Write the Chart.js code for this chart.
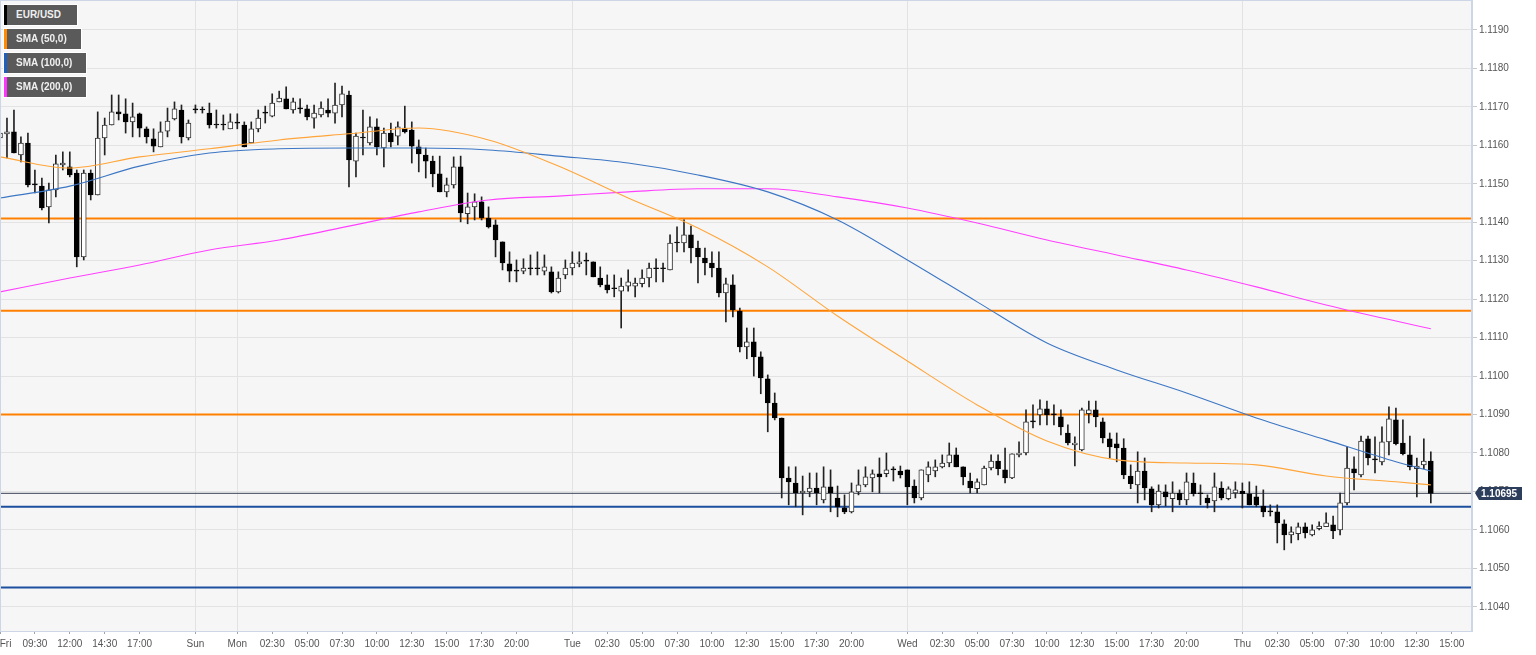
<!DOCTYPE html>
<html>
<head>
<meta charset="utf-8">
<title>EUR/USD</title>
<script src="https://cdn.jsdelivr.net/npm/chart.js@4.4.1/dist/chart.umd.min.js"></script>
<style>
  html, body { margin: 0; padding: 0; background: #fff; }
  #wrap { position: relative; width: 1536px; height: 655px; }
  .leg {
    position: absolute; left: 4px; height: 20px; box-sizing: border-box;
    background: #5a5a5a; color: #f0f0f0; border-left: 3px solid #000;
    outline: 1px solid #fff; padding-left: 9px;
    font: bold 10px "Liberation Sans", Arial, sans-serif; line-height: 20px;
  }
</style>
</head>
<body>
<div id="wrap">
  <canvas id="chart" width="1536" height="655"></canvas>
  <div class="leg" style="top:5px;width:73px;border-left-color:#000">EUR/USD</div>
  <div class="leg" style="top:29px;width:77px;border-left-color:#ff8a00">SMA (50,0)</div>
  <div class="leg" style="top:53px;width:82px;border-left-color:#1f5fc0">SMA (100,0)</div>
  <div class="leg" style="top:77px;width:82px;border-left-color:#ff33ff">SMA (200,0)</div>
</div>
<script>
// 30 minute candles, Fri 07:00 -> Thu 13:30 (weekend removed)
const open = [
  1.11619,1.11630,1.11635,1.11575,1.11606,1.11500,1.11494,1.11440,1.11484,1.11549,
  1.11544,1.11528,1.11310,1.11528,1.11471,1.11619,1.11653,1.11687,1.11682,1.11661,
  1.11682,1.11643,1.11617,1.11596,1.11637,1.11669,1.11692,1.11619,1.11695,1.11692,
  1.11684,1.11653,1.11653,1.11643,1.11658,1.11653,1.11606,1.11643,1.11684,1.11676,
  1.11713,1.11721,1.11692,1.11695,1.11695,1.11671,1.11679,1.11692,1.11684,1.11705,
  1.11731,1.11559,1.11619,1.11606,1.11648,1.11593,1.11632,1.11624,1.11645,1.11640,
  1.11596,1.11575,1.11559,1.11526,1.11479,1.11497,1.11544,1.11422,1.11440,1.11453,
  1.11411,1.11393,1.11349,1.11292,1.11273,1.11273,1.11279,1.11279,1.11273,1.11271,
  1.11219,1.11263,1.11281,1.11292,1.11299,1.11297,1.11255,1.11237,1.11227,1.11221,
  1.11234,1.11234,1.11240,1.11255,1.11279,1.11279,1.11276,1.11346,1.11346,1.11367,
  1.11333,1.11307,1.11294,1.11281,1.11216,1.11237,1.11169,1.11076,1.11089,1.11050,
  1.10993,1.10930,1.10891,1.10735,1.10722,1.10696,1.10699,1.10709,1.10678,1.10712,
  1.10683,1.10657,1.10647,1.10699,1.10717,1.10735,1.10746,1.10746,1.10756,1.10753,
  1.10756,1.10714,1.10683,1.10743,1.10753,1.10764,1.10774,1.10795,1.10764,1.10727,
  1.10707,1.10717,1.10761,1.10779,1.10756,1.10735,1.10795,1.10800,1.10881,1.10899,
  1.10915,1.10899,1.10894,1.10852,1.10821,1.10808,1.10902,1.10912,1.10881,1.10837,
  1.10824,1.10813,1.10740,1.10717,1.10753,1.10707,1.10665,1.10699,1.10681,1.10696,
  1.10678,1.10722,1.10694,1.10683,1.10675,1.10709,1.10681,1.10696,1.10701,1.10694,
  1.10686,1.10662,1.10647,1.10647,1.10616,1.10587,1.10590,1.10608,1.10587,1.10603,
  1.10608,1.10613,1.10600,1.10670,1.10759,1.10743,1.10837,1.10782,1.10777,1.10829,
  1.10886,1.10826,1.10795,1.10759,1.10769,1.10779
];
const high = [
  1.11687,1.11671,1.11692,1.11622,1.11632,1.11536,1.11515,1.11502,1.11575,1.11583,
  1.11583,1.11536,1.11536,1.11536,1.11687,1.11671,1.11731,1.11731,1.11721,1.11710,
  1.11684,1.11648,1.11643,1.11661,1.11697,1.11713,1.11705,1.11666,1.11705,1.11700,
  1.11710,1.11692,1.11679,1.11682,1.11682,1.11661,1.11661,1.11692,1.11702,1.11734,
  1.11741,1.11752,1.11723,1.11721,1.11705,1.11705,1.11713,1.11721,1.11762,1.11754,
  1.11741,1.11632,1.11692,1.11674,1.11669,1.11645,1.11658,1.11661,1.11702,1.11661,
  1.11614,1.11593,1.11572,1.11572,1.11515,1.11570,1.11572,1.11476,1.11474,1.11466,
  1.11440,1.11406,1.11349,1.11323,1.11302,1.11305,1.11315,1.11323,1.11315,1.11284,
  1.11271,1.11302,1.11323,1.11323,1.11320,1.11297,1.11284,1.11263,1.11263,1.11255,
  1.11276,1.11255,1.11276,1.11294,1.11305,1.11294,1.11367,1.11388,1.11406,1.11390,
  1.11351,1.11333,1.11323,1.11323,1.11255,1.11263,1.11177,1.11125,1.11125,1.11063,
  1.11003,1.10956,1.10891,1.10764,1.10764,1.10740,1.10748,1.10748,1.10764,1.10756,
  1.10714,1.10691,1.10722,1.10756,1.10764,1.10756,1.10787,1.10800,1.10764,1.10766,
  1.10756,1.10730,1.10756,1.10777,1.10782,1.10795,1.10826,1.10813,1.10764,1.10748,
  1.10733,1.10766,1.10795,1.10795,1.10813,1.10798,1.10829,1.10912,1.10925,1.10938,
  1.10935,1.10925,1.10912,1.10873,1.10842,1.10917,1.10935,1.10935,1.10891,1.10852,
  1.10852,1.10837,1.10769,1.10803,1.10787,1.10712,1.10717,1.10717,1.10725,1.10704,
  1.10748,1.10748,1.10717,1.10691,1.10748,1.10725,1.10712,1.10725,1.10722,1.10725,
  1.10714,1.10704,1.10665,1.10665,1.10626,1.10608,1.10618,1.10618,1.10613,1.10621,
  1.10644,1.10636,1.10696,1.10816,1.10790,1.10844,1.10844,1.10842,1.10868,1.10920,
  1.10917,1.10886,1.10844,1.10787,1.10837,1.10803
];
const low = [
  1.11614,1.11567,1.11580,1.11557,1.11492,1.11476,1.11432,1.11398,1.11466,1.11536,
  1.11518,1.11284,1.11302,1.11458,1.11471,1.11575,1.11653,1.11666,1.11632,1.11622,
  1.11622,1.11606,1.11583,1.11596,1.11622,1.11666,1.11606,1.11614,1.11684,1.11684,
  1.11645,1.11645,1.11640,1.11643,1.11643,1.11596,1.11606,1.11635,1.11658,1.11674,
  1.11713,1.11695,1.11684,1.11684,1.11666,1.11645,1.11674,1.11674,1.11658,1.11674,
  1.11492,1.11518,1.11575,1.11601,1.11575,1.11544,1.11596,1.11601,1.11632,1.11554,
  1.11531,1.11515,1.11492,1.11479,1.11466,1.11489,1.11401,1.11396,1.11406,1.11406,
  1.11385,1.11310,1.11276,1.11245,1.11245,1.11266,1.11263,1.11263,1.11263,1.11216,
  1.11216,1.11253,1.11263,1.11284,1.11263,1.11258,1.11232,1.11216,1.11206,1.11125,
  1.11221,1.11206,1.11232,1.11232,1.11245,1.11245,1.11276,1.11323,1.11323,1.11294,
  1.11242,1.11263,1.11258,1.11206,1.11141,1.11154,1.11063,1.11045,1.11000,1.10954,
  1.10855,1.10886,1.10683,1.10665,1.10660,1.10639,1.10686,1.10665,1.10670,1.10647,
  1.10634,1.10642,1.10644,1.10691,1.10712,1.10699,1.10696,1.10738,1.10727,1.10735,
  1.10665,1.10670,1.10678,1.10725,1.10738,1.10761,1.10764,1.10764,1.10717,1.10696,
  1.10696,1.10717,1.10756,1.10743,1.10722,1.10733,1.10790,1.10795,1.10865,1.10873,
  1.10873,1.10873,1.10847,1.10821,1.10766,1.10805,1.10878,1.10868,1.10826,1.10787,
  1.10777,1.10733,1.10707,1.10670,1.10678,1.10647,1.10657,1.10662,1.10647,1.10665,
  1.10665,1.10688,1.10665,1.10657,1.10647,1.10678,1.10678,1.10683,1.10657,1.10665,
  1.10660,1.10634,1.10636,1.10566,1.10548,1.10566,1.10574,1.10579,1.10584,1.10600,
  1.10608,1.10577,1.10587,1.10665,1.10704,1.10738,1.10769,1.10748,1.10769,1.10795,
  1.10821,1.10795,1.10756,1.10686,1.10759,1.10670
];
const close = [
  1.11632,1.11635,1.11580,1.11606,1.11497,1.11497,1.11437,1.11484,1.11552,1.11554,
  1.11523,1.11310,1.11528,1.11471,1.11619,1.11653,1.11687,1.11682,1.11661,1.11674,
  1.11645,1.11622,1.11598,1.11635,1.11663,1.11695,1.11622,1.11658,1.11692,1.11692,
  1.11653,1.11653,1.11653,1.11661,1.11658,1.11596,1.11643,1.11671,1.11684,1.11710,
  1.11723,1.11695,1.11713,1.11695,1.11674,1.11684,1.11697,1.11684,1.11705,1.11734,
  1.11562,1.11624,1.11619,1.11648,1.11596,1.11632,1.11609,1.11648,1.11635,1.11598,
  1.11578,1.11559,1.11526,1.11479,1.11497,1.11544,1.11424,1.11440,1.11453,1.11411,
  1.11388,1.11354,1.11294,1.11273,1.11273,1.11281,1.11279,1.11279,1.11284,1.11219,
  1.11255,1.11281,1.11294,1.11297,1.11299,1.11258,1.11237,1.11224,1.11227,1.11234,
  1.11245,1.11242,1.11255,1.11281,1.11279,1.11279,1.11346,1.11346,1.11367,1.11333,
  1.11310,1.11294,1.11281,1.11216,1.11240,1.11172,1.11076,1.11089,1.11050,1.10995,
  1.10930,1.10891,1.10735,1.10725,1.10696,1.10701,1.10709,1.10696,1.10712,1.10696,
  1.10660,1.10647,1.10699,1.10717,1.10738,1.10746,1.10738,1.10756,1.10756,1.10743,
  1.10712,1.10683,1.10756,1.10764,1.10764,1.10774,1.10795,1.10764,1.10738,1.10709,
  1.10725,1.10761,1.10779,1.10759,1.10735,1.10798,1.10800,1.10881,1.10881,1.10915,
  1.10899,1.10899,1.10868,1.10826,1.10826,1.10912,1.10912,1.10894,1.10839,1.10816,
  1.10813,1.10743,1.10720,1.10753,1.10709,1.10665,1.10701,1.10686,1.10696,1.10678,
  1.10725,1.10694,1.10694,1.10670,1.10712,1.10683,1.10707,1.10704,1.10694,1.10665,
  1.10665,1.10647,1.10647,1.10618,1.10587,1.10595,1.10608,1.10592,1.10600,1.10610,
  1.10618,1.10597,1.10670,1.10761,1.10748,1.10831,1.10787,1.10782,1.10829,1.10889,
  1.10824,1.10798,1.10764,1.10766,1.10779,1.10695
];

const smaIdx = [0,10,20,30,40,50,60,70,80,90,100,110,120,130,140,150,160,170,180,190,200,205];
const sma50 = [1.11570,1.11541,1.11570,1.11591,1.11614,1.11630,1.11645,1.11614,1.11546,1.11463,1.11385,
               1.11284,1.11156,1.11039,1.10925,1.10831,1.10782,1.10774,1.10769,1.10740,1.10725,1.10717];
const sma100 = [1.11463,1.11494,1.11546,1.11580,1.11591,1.11593,1.11593,1.11588,1.11572,1.11554,1.11523,
                1.11479,1.11406,1.11302,1.11193,1.11086,1.11016,1.10956,1.10891,1.10834,1.10777,1.10753];
const sma200 = [1.11219,1.11255,1.11289,1.11328,1.11354,1.11390,1.11427,1.11458,1.11468,1.11479,1.11487,
                1.11487,1.11466,1.11437,1.11398,1.11354,1.11315,1.11276,1.11232,1.11185,1.11143,1.11123];

// horizontal levels
const resistLevels = [1.1141, 1.1117, 1.1090];
const supportLevels = [1.1066, 1.1045];

// axis
const tickIdx = [0,5,10,15,20,28,34,39,44,49,54,59,64,69,74,82,87,92,97,102,107,112,117,122,
                 130,135,140,145,150,155,160,165,170,178,183,188,193,198,203,208];
const tickLbl = ['Fri','09:30','12:00','14:30','17:00','Sun','Mon','02:30','05:00','07:30','10:00','12:30',
                 '15:00','17:30','20:00','Tue','02:30','05:00','07:30','10:00','12:30','15:00','17:30','20:00',
                 'Wed','02:30','05:00','07:30','10:00','12:30','15:00','17:30','20:00',
                 'Thu','02:30','05:00','07:30','10:00','12:30','15:00'];
const dayIdx = [28, 34, 82, 130, 178];
const yTicks = [1.1040,1.1050,1.1060,1.1070,1.1080,1.1090,1.1100,1.1110,1.1120,1.1130,1.1140,1.1150,1.1160,1.1170,1.1180,1.1190];

const X_MAX = 210.9;
const Y_MIN = 1.10337, Y_MAX = 1.11978;
const FONT = '"Liberation Sans", Arial, sans-serif';

const idx = open.map((_, i) => i);
const isBull = idx.map(i => close[i] > open[i]);
const lastClose = close[close.length - 1];

function hline(v, color, width, order) {
  return {
    type: 'line', order,
    data: [{x: 0, y: v}, {x: X_MAX, y: v}],
    borderColor: color, borderWidth: width, pointRadius: 0,
  };
}
function smaLine(vals, color) {
  return {
    type: 'line', order: 0,
    data: smaIdx.map((x, k) => ({x, y: vals[k]})),
    borderColor: color, borderWidth: 1.1, pointRadius: 0,
    cubicInterpolationMode: 'monotone',
  };
}

const plotFrame = {
  id: 'plotFrame',
  beforeDraw(chart) {
    const {ctx, chartArea: a} = chart;
    ctx.save();
    ctx.fillStyle = '#f6f6f6';
    ctx.fillRect(a.left, a.top, a.right - a.left, a.bottom - a.top);
    ctx.restore();
  },
  afterDraw(chart) {
    const {ctx, chartArea: a} = chart;
    ctx.save();
    ctx.strokeStyle = '#cdd6e6';
    ctx.lineWidth = 1;
    ctx.strokeRect(a.left + 0.5, a.top + 0.5, a.right - a.left - 1, a.bottom - a.top);
    // last price tag
    const y = Math.round(chart.scales.y.getPixelForValue(lastClose));
    const x = a.right + 3;
    ctx.fillStyle = '#2c3e5c';
    ctx.beginPath();
    ctx.moveTo(x, y);
    ctx.lineTo(x + 4, y - 6);
    ctx.lineTo(x + 47, y - 6);
    ctx.lineTo(x + 47, y + 7);
    ctx.lineTo(x + 4, y + 7);
    ctx.closePath();
    ctx.fill();
    ctx.fillStyle = '#ffffff';
    ctx.font = 'bold 10px ' + FONT;
    ctx.textBaseline = 'middle';
    ctx.fillText(lastClose.toFixed(5), x + 6, y + 1);
    ctx.restore();
  }
};

const datasets = [
  ...resistLevels.map(v => hline(v, '#ff8000', 2, 6)),
  ...supportLevels.map(v => hline(v, '#1d4f9f', 2, 6)),
  hline(lastClose, '#3b4456', 1, 6),
  {
    type: 'bar', order: 5,
    data: idx.map(i => ({x: i, y: [low[i], high[i]]})),
    backgroundColor: '#222', barThickness: 1, grouped: false,
  },
  {
    type: 'bar', order: 4,
    data: idx.map(i => ({x: i, y: [open[i], close[i]]})),
    backgroundColor: idx.map(i => isBull[i] ? '#ffffff' : '#000000'),
    borderColor: idx.map(i => isBull[i] ? '#333333' : '#000000'),
    borderWidth: 1, borderSkipped: false, barThickness: 5, minBarLength: 1, grouped: false,
  },
  smaLine(sma50, '#ffa53a'),
  smaLine(sma100, '#3c76c4'),
  smaLine(sma200, '#ff40ff'),
];

new Chart(document.getElementById('chart'), {
  type: 'bar',
  data: {datasets},
  plugins: [plotFrame],
  options: {
    responsive: false,
    animation: false,
    events: [],
    layout: {padding: 0},
    plugins: {legend: {display: false}, tooltip: {enabled: false}},
    scales: {
      x: {
        type: 'linear', min: 0, max: X_MAX, offset: false, bounds: 'data',
        grid: {
          offset: false,
          color: c => (c.tick && dayIdx.includes(c.tick.value)) ? '#e2e2e2' : 'rgba(0,0,0,0)',
          tickColor: '#9aa4b4', tickLength: 3,
        },
        border: {color: '#cdd6e6'},
        ticks: {
          autoSkip: false, maxRotation: 0, padding: 4, color: '#555',
          font: {size: 10, family: FONT},
          callback: (v, i) => i === 0 ? '    ' + tickLbl[0] : tickLbl[i],
        },
        afterBuildTicks: s => { s.ticks = tickIdx.map(v => ({value: v})); },
        afterFit: s => { s.height = 24; s.paddingLeft = 0; s.paddingRight = 0; },
      },
      y: {
        type: 'linear', position: 'right', min: Y_MIN, max: Y_MAX, bounds: 'data',
        grid: {color: '#e3e3e3', tickColor: '#c8c8c8', tickLength: 5},
        border: {color: '#cdd6e6'},
        ticks: {
          padding: 2, color: '#555', font: {size: 10, family: FONT},
          callback: v => Number(v).toFixed(4),
        },
        afterBuildTicks: s => { s.ticks = yTicks.map(v => ({value: v})); },
        afterFit: s => { s.width = 64; s.paddingTop = 0; s.paddingBottom = 0; },
      },
    },
  },
});
</script>
</body>
</html>
